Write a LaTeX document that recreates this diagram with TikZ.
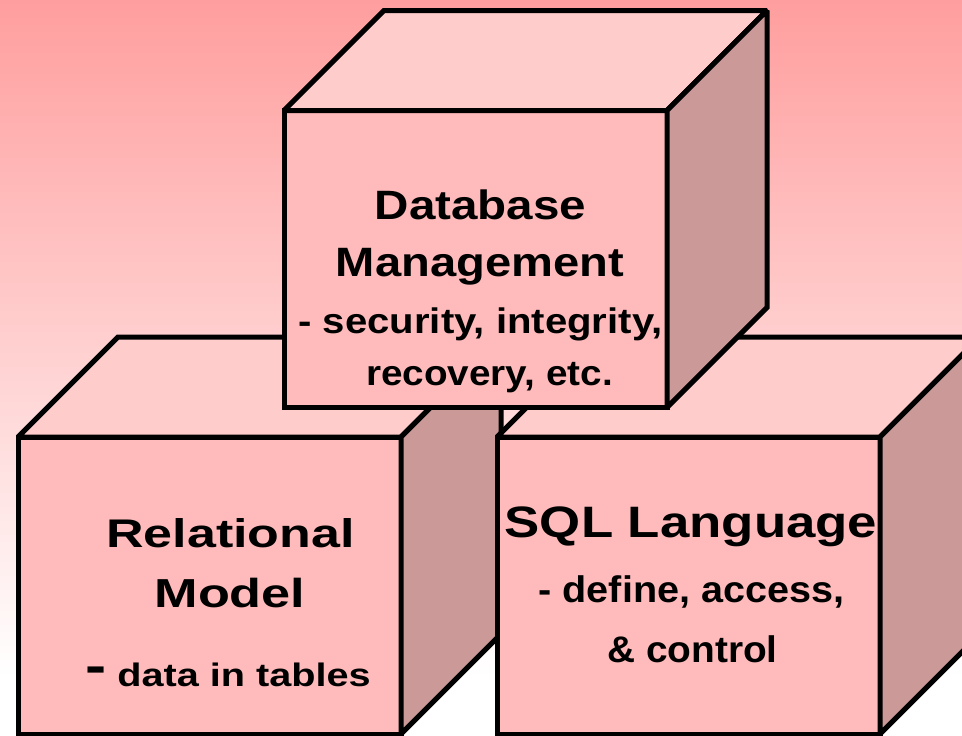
\documentclass[tikz,border=0pt]{standalone}
\usepackage{fontspec}
\setmainfont{Liberation Sans}
\usepackage{graphicx}
\definecolor{bgtop}{RGB}{255,158,158}
\definecolor{frontc}{RGB}{255,187,187}
\definecolor{topc}{RGB}{255,204,204}
\definecolor{sidec}{RGB}{204,153,153}
\pgfdeclareverticalshading{bgshade}{100bp}{color(0bp)=(white); color(29bp)=(white); color(75bp)=(bgtop); color(100bp)=(bgtop)}
\newcommand{\hstretch}[2]{\scalebox{#1}[1]{#2}}
\tikzset{
  face/.style={draw=black, line width=5pt, line join=miter, miter limit=2},
  txt/.style={anchor=base, inner sep=0pt},
  pics/cube/.style={code={
    \filldraw[face, fill=frontc] (0,0) rectangle (383,297);
    \filldraw[face, fill=topc] (0,0) -- (100,-100) -- (483,-100) -- (383,0) -- cycle;
    \filldraw[face, fill=sidec] (383,0) -- (483,-100) -- (483,197) -- (383,297) -- cycle;
  }}
}
\begin{document}
\begin{tikzpicture}[x=1pt, y=-1pt]
  \useasboundingbox (0,0) rectangle (962,736);
  \clip (0,0) rectangle (962,736);
  \shade[shading=bgshade] (0,0) rectangle (962,736);
  % cubes
  \pic (cubeL) at (18,437) {cube};
  \pic (cubeR) at (497,437) {cube};
  \pic (cubeT) at (284,110.5) {cube};
  % top cube text
  \node[txt, font=\bfseries\fontsize{41}{40}\selectfont] (dbA) at (480.5,219.5) {\hstretch{1.16}{Database}};
  \node[txt, font=\bfseries\fontsize{41}{40}\selectfont] (dbB) at (480,276.5) {\hstretch{1.15}{Management}};
  \node[txt, font=\bfseries\fontsize{35.5}{35}\selectfont] (dbC) at (480.5,333.5) {\hstretch{1.13}{- security, integrity,}};
  \node[txt, font=\bfseries\fontsize{35.5}{35}\selectfont] (dbD) at (489.5,385.5) {\hstretch{1.09}{recovery, etc.}};
  % left cube text
  \node[txt, font=\bfseries\fontsize{40}{40}\selectfont] (rmA) at (230.5,547.5) {\hstretch{1.3}{Relational}};
  \node[txt, font=\bfseries\fontsize{40.5}{40}\selectfont] (rmB) at (230,607.5) {\hstretch{1.29}{Model}};
  \node[txt, anchor=base west, font=\bfseries\fontsize{32.5}{32}\selectfont] (rmC) at (85,686.5) {\hstretch{1.22}{\raisebox{3pt}{\fontsize{52}{52}\selectfont -} data in tables}};
  % right cube text
  \node[txt, font=\bfseries\fontsize{44}{44}\selectfont] (sqA) at (691,537.5) {\hstretch{1.2}{SQL Language}};
  \node[txt, font=\bfseries\fontsize{37}{37}\selectfont] (sqB) at (691.5,602.5) {\hstretch{1.07}{- define, access,}};
  \node[txt, font=\bfseries\fontsize{37}{37}\selectfont] (sqC) at (692.5,662.5) {\hstretch{1.05}{\& control}};
\end{tikzpicture}
\end{document}
